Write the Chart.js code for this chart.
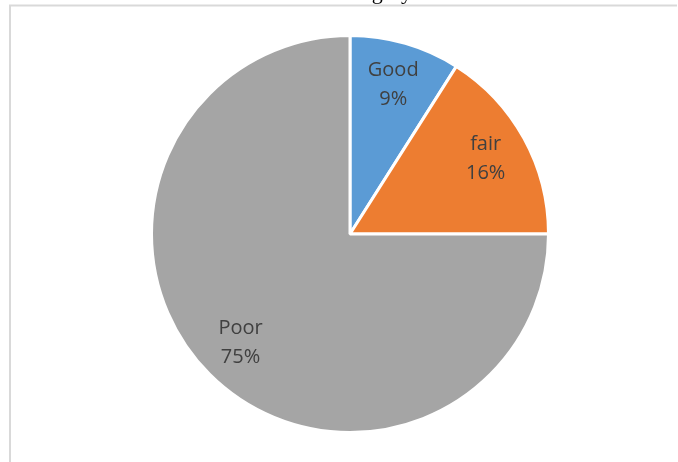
<!DOCTYPE html>
<html>
<head>
<meta charset="utf-8">
<script src="https://cdn.jsdelivr.net/npm/chart.js@4"></script>
<style>
html, body { margin: 0; padding: 0; background: #fff; }
#wrap { width: 678px; height: 462px; position: relative; }
</style>
</head>
<body>
<div id="wrap"><canvas id="pie"></canvas></div>
<script>
const categories = ["Good", "fair", "Poor"];
const shares = [9, 16, 75];
const colors = ["#5B9BD5", "#ED7D31", "#A5A5A5"];
const titleText = "Pavement Condition Category";

// frame and the cropped title above it
const framePlugin = {
	id: "frame",
	beforeDraw(chart) {
		const ctx = chart.ctx;
		ctx.save();
		ctx.font = "22px 'Liberation Serif'";
		ctx.fillStyle = "#000";
		ctx.textAlign = "right";
		ctx.textBaseline = "alphabetic";
		ctx.fillText(titleText, 412, -1);
		ctx.strokeStyle = "#D9D9D9";
		ctx.lineWidth = 2;
		ctx.beginPath();
		ctx.moveTo(10, 462);
		ctx.lineTo(10, 5.5);
		ctx.lineTo(677, 5.5);
		ctx.stroke();
		ctx.restore();
	}
};

// category name + percent inside each slice
const labelPlugin = {
	id: "sliceLabels",
	afterDatasetsDraw(chart) {
		const ctx = chart.ctx;
		const meta = chart.getDatasetMeta(0);
		const total = shares.reduce((a, b) => a + b, 0);
		ctx.save();
		ctx.font = "20px 'Open Sans'";
		ctx.fillStyle = "#404040";
		ctx.textAlign = "center";
		ctx.textBaseline = "middle";
		meta.data.forEach((arc, i) => {
			const p = arc.getProps(["x", "y", "startAngle", "endAngle", "outerRadius"], true);
			const mid = (p.startAngle + p.endAngle) / 2;
			const r = p.outerRadius * 0.78;
			const x = p.x + Math.cos(mid) * r;
			const y = p.y + Math.sin(mid) * r;
			ctx.fillText(categories[i], x, y - 15);
			ctx.fillText(Math.round(shares[i] / total * 100) + "%", x, y + 14);
		});
		ctx.restore();
	}
};

new Chart(document.getElementById("pie"), {
	type: "pie",
	data: {
		labels: categories,
		datasets: [
			{
				data: shares,
				backgroundColor: colors,
				borderColor: "#fff",
				borderWidth: 3
			}
		]
	},
	options: {
		responsive: true,
		maintainAspectRatio: false,
		animation: false,
		layout: { padding: { top: 34, bottom: 28, left: 22, right: 0 } },
		plugins: {
			legend: { display: false },
			tooltip: { enabled: false },
			title: { display: false }
		}
	},
	plugins: [framePlugin, labelPlugin]
});
</script>
</body>
</html>
